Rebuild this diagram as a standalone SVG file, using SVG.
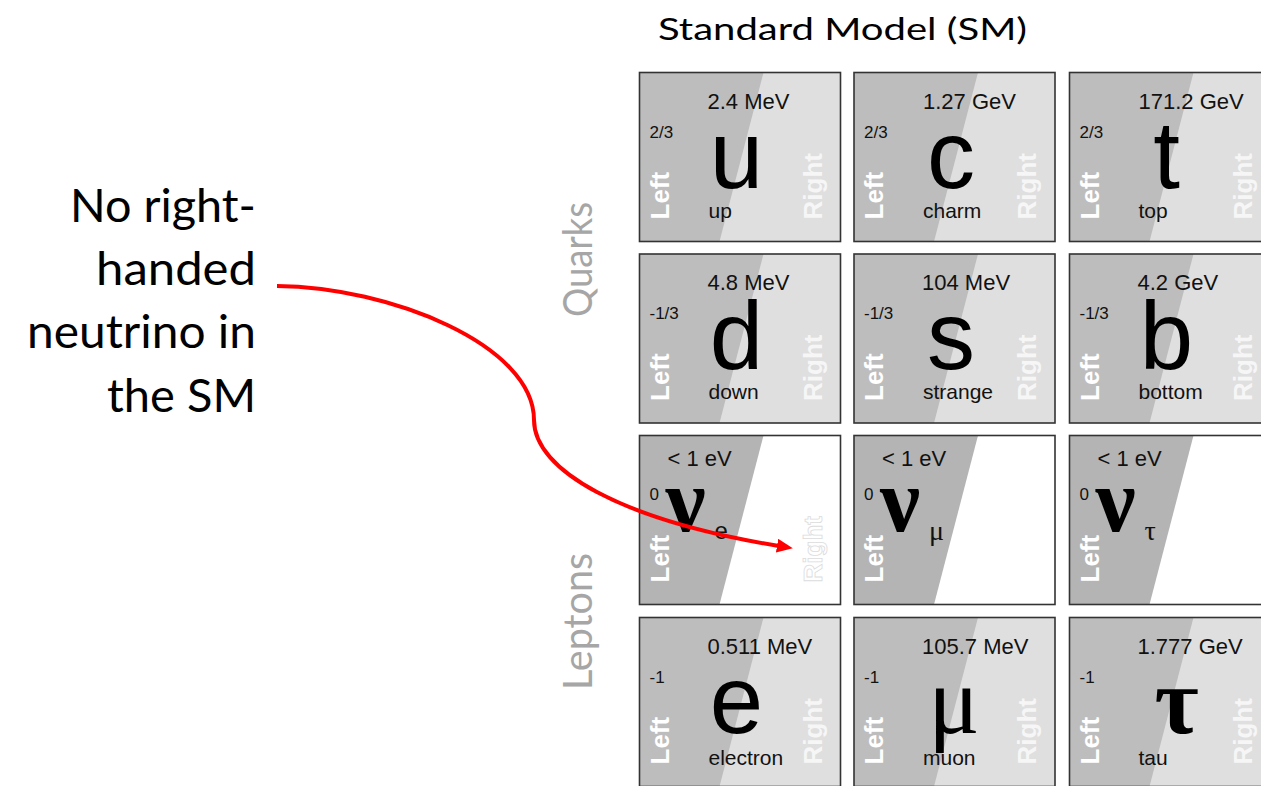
<svg xmlns="http://www.w3.org/2000/svg" width="1261" height="786" viewBox="0 0 1261 786">
<style>
.bgR{fill:#dfdfdf}
.bgL{fill:#bdbdbd}
.nuR{fill:#ffffff}
.nuL{fill:#b4b4b4}
.frame{fill:none;stroke:#333333;stroke-width:1.6}
.mass{font-family:"Liberation Sans",Arial,sans-serif;font-size:22px;fill:#111}
.chg{font-family:"Liberation Sans",Arial,sans-serif;font-size:17px;fill:#111}
.big{font-family:"Liberation Sans",Arial,sans-serif;font-size:96px;fill:#000;text-anchor:middle}
.bigs{font-family:"Liberation Serif","Times New Roman",serif;font-size:96px;fill:#000;text-anchor:middle}
.nu{font-family:"Liberation Serif","Times New Roman",serif;font-size:90px;font-weight:bold;fill:#000}
.sub{font-family:"Liberation Sans",Arial,sans-serif;font-size:24px;fill:#111}
.subs{font-family:"Liberation Serif","Times New Roman",serif;font-size:28px;fill:#111}
.name{font-family:"Liberation Sans",Arial,sans-serif;font-size:21px;fill:#111}
.hand{font-family:"Liberation Sans",Arial,sans-serif;font-size:26px;font-weight:bold;fill:#ffffff}
.handR{font-family:"Liberation Sans",Arial,sans-serif;font-size:26px;font-weight:bold;fill:#f6f6f6}
.ghost{font-family:"Liberation Sans",Arial,sans-serif;font-size:26px;font-weight:bold;fill:#ffffff;stroke:#dcdcdc;stroke-width:0.8}
.side{font-family:Lato,"Open Sans",sans-serif;font-size:40px;fill:#a6a6a6}
.note{font-family:Lato,"Open Sans",sans-serif;font-size:46px;fill:#000;text-anchor:end}
.title{font-family:Lato,"Open Sans",sans-serif;font-size:31px;fill:#000}
</style>
<defs>
<marker id="arr" markerUnits="userSpaceOnUse" markerWidth="18" markerHeight="16" refX="2" refY="7" orient="auto">
<path d="M0,0 L16,7 L0,14 z" fill="#ff0000"/>
</marker>
<polygon id="leftpart" points="0,0 124,0 80,169 0,169"/>
</defs>
<rect width="1261" height="786" fill="#ffffff"/>

<text id="title" class="title" x="658" y="40" textLength="369" lengthAdjust="spacingAndGlyphs">Standard Model (SM)</text>

<g id="note">
<text class="note" x="256" y="222" textLength="186" lengthAdjust="spacingAndGlyphs">No right-</text>
<text class="note" x="256" y="285" textLength="160" lengthAdjust="spacingAndGlyphs">handed</text>
<text class="note" x="256" y="348" textLength="229" lengthAdjust="spacingAndGlyphs">neutrino in</text>
<text class="note" x="256" y="412" textLength="149" lengthAdjust="spacingAndGlyphs">the SM</text>
</g>

<g id="label-quarks"><text class="side" transform="translate(592,317) rotate(-90)" textLength="115" lengthAdjust="spacingAndGlyphs">Quarks</text></g>
<g id="label-leptons"><text class="side" transform="translate(592,690) rotate(-90)" textLength="137" lengthAdjust="spacingAndGlyphs">Leptons</text></g>

<!-- Row 1 -->
<g id="cell-u" transform="translate(639.5,72.5)">
<rect class="bgR" width="201" height="169"/><use href="#leftpart" class="bgL"/>
<text class="mass" x="68" y="36">2.4 MeV</text><text class="chg" x="10" y="65">2/3</text>
<text class="big" x="97" y="115">u</text><text class="name" x="69" y="145">up</text>
<text class="hand" transform="translate(29,147) rotate(-90)">Left</text><text class="handR" transform="translate(182,147) rotate(-90)">Right</text>
<rect class="frame" width="201" height="169"/>
</g>
<g id="cell-c" transform="translate(854,72.5)">
<rect class="bgR" width="201" height="169"/><use href="#leftpart" class="bgL"/>
<text class="mass" x="69" y="36">1.27 GeV</text><text class="chg" x="10" y="65">2/3</text>
<text class="big" x="97" y="115">c</text><text class="name" x="69" y="145">charm</text>
<text class="hand" transform="translate(29,147) rotate(-90)">Left</text><text class="handR" transform="translate(182,147) rotate(-90)">Right</text>
<rect class="frame" width="201" height="169"/>
</g>
<g id="cell-t" transform="translate(1069.5,72.5)">
<rect class="bgR" width="201" height="169"/><use href="#leftpart" class="bgL"/>
<text class="mass" x="69" y="36">171.2 GeV</text><text class="chg" x="10" y="65">2/3</text>
<text class="big" x="97" y="115">t</text><text class="name" x="69" y="145">top</text>
<text class="hand" transform="translate(29,147) rotate(-90)">Left</text><text class="handR" transform="translate(182,147) rotate(-90)">Right</text>
<rect class="frame" width="201" height="169"/>
</g>

<!-- Row 2 -->
<g id="cell-d" transform="translate(639.5,254)">
<rect class="bgR" width="201" height="169"/><use href="#leftpart" class="bgL"/>
<text class="mass" x="68" y="36">4.8 MeV</text><text class="chg" x="10" y="65">-1/3</text>
<text class="big" x="97" y="115">d</text><text class="name" x="69" y="145">down</text>
<text class="hand" transform="translate(29,147) rotate(-90)">Left</text><text class="handR" transform="translate(182,147) rotate(-90)">Right</text>
<rect class="frame" width="201" height="169"/>
</g>
<g id="cell-s" transform="translate(854,254)">
<rect class="bgR" width="201" height="169"/><use href="#leftpart" class="bgL"/>
<text class="mass" x="68" y="36">104 MeV</text><text class="chg" x="10" y="65">-1/3</text>
<text class="big" x="97" y="115">s</text><text class="name" x="69" y="145">strange</text>
<text class="hand" transform="translate(29,147) rotate(-90)">Left</text><text class="handR" transform="translate(182,147) rotate(-90)">Right</text>
<rect class="frame" width="201" height="169"/>
</g>
<g id="cell-b" transform="translate(1069.5,254)">
<rect class="bgR" width="201" height="169"/><use href="#leftpart" class="bgL"/>
<text class="mass" x="68" y="36">4.2 GeV</text><text class="chg" x="10" y="65">-1/3</text>
<text class="big" x="97" y="115">b</text><text class="name" x="69" y="145">bottom</text>
<text class="hand" transform="translate(29,147) rotate(-90)">Left</text><text class="handR" transform="translate(182,147) rotate(-90)">Right</text>
<rect class="frame" width="201" height="169"/>
</g>

<!-- Row 3: neutrinos -->
<g id="cell-nue" transform="translate(639.5,435.5)">
<rect class="nuR" width="201" height="169"/><use href="#leftpart" class="nuL"/>
<text class="mass" x="28" y="30">&lt; 1 eV</text><text class="chg" x="10" y="64">0</text>
<text class="nu" x="26" y="95">ν</text><text class="sub" x="75" y="103">e</text>
<text class="hand" transform="translate(29,147) rotate(-90)">Left</text><text class="ghost" transform="translate(182,147) rotate(-90)">Right</text>
<rect class="frame" width="201" height="169"/>
</g>
<g id="cell-numu" transform="translate(854,435.5)">
<rect class="nuR" width="201" height="169"/><use href="#leftpart" class="nuL"/>
<text class="mass" x="28" y="30">&lt; 1 eV</text><text class="chg" x="10" y="64">0</text>
<text class="nu" x="26" y="95">ν</text><text class="subs" x="75" y="104">μ</text>
<text class="hand" transform="translate(29,147) rotate(-90)">Left</text>
<rect class="frame" width="201" height="169"/>
</g>
<g id="cell-nutau" transform="translate(1069.5,435.5)">
<rect class="nuR" width="201" height="169"/><use href="#leftpart" class="nuL"/>
<text class="mass" x="28" y="30">&lt; 1 eV</text><text class="chg" x="10" y="64">0</text>
<text class="nu" x="26" y="95">ν</text><text class="subs" x="75" y="104">τ</text>
<text class="hand" transform="translate(29,147) rotate(-90)">Left</text>
<rect class="frame" width="201" height="169"/>
</g>

<!-- Row 4 -->
<g id="cell-e" transform="translate(639.5,617.5)">
<rect class="bgR" width="201" height="169"/><use href="#leftpart" class="bgL"/>
<text class="mass" x="68" y="36">0.511 MeV</text><text class="chg" x="10" y="65">-1</text>
<text class="big" x="97" y="115">e</text><text class="name" x="69" y="147">electron</text>
<text class="hand" transform="translate(29,147) rotate(-90)">Left</text><text class="handR" transform="translate(182,147) rotate(-90)">Right</text>
<rect class="frame" width="201" height="169"/>
</g>
<g id="cell-mu" transform="translate(854,617.5)">
<rect class="bgR" width="201" height="169"/><use href="#leftpart" class="bgL"/>
<text class="mass" x="68" y="36">105.7 MeV</text><text class="chg" x="10" y="65">-1</text>
<text class="bigs" x="100" y="115">μ</text><text class="name" x="69" y="147">muon</text>
<text class="hand" transform="translate(29,147) rotate(-90)">Left</text><text class="handR" transform="translate(182,147) rotate(-90)">Right</text>
<rect class="frame" width="201" height="169"/>
</g>
<g id="cell-tau" transform="translate(1069.5,617.5)">
<rect class="bgR" width="201" height="169"/><use href="#leftpart" class="bgL"/>
<text class="mass" x="68" y="36">1.777 GeV</text><text class="chg" x="10" y="65">-1</text>
<text class="bigs" x="107" y="115" font-weight="bold">τ</text><text class="name" x="69" y="147">tau</text>
<text class="hand" transform="translate(29,147) rotate(-90)">Left</text><text class="handR" transform="translate(182,147) rotate(-90)">Right</text>
<rect class="frame" width="201" height="169"/>
</g>

<g id="connectors">
<path d="M277,286 C390,287 534,345 534,420 C534,470 620,520 779,546" fill="none" stroke="#ff0000" stroke-width="4" marker-end="url(#arr)"/>
</g>
</svg>
